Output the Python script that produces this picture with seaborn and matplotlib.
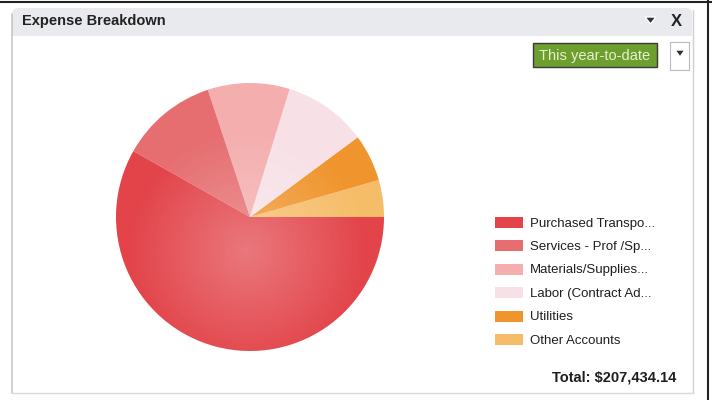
import numpy as np
import matplotlib
matplotlib.use("Agg")
import matplotlib.pyplot as plt
import seaborn as sns
from matplotlib.patches import Rectangle, FancyBboxPatch, Circle, Polygon

# ---- data ----
categories = ["Purchased Transpo...", "Services - Prof /Sp...", "Materials/Supplies...",
              "Labor (Contract Ad...", "Utilities", "Other Accounts"]
values = [120700, 24300, 20500, 20900, 11800, 9234.14]
colors = ["#E2444A", "#E66E70", "#F4AEAE", "#F7E1E7", "#F0952E", "#F6BD69"]
title = "Expense Breakdown"
period = "This year-to-date"
total_label = "Total: $207,434.14"

sns.set_theme(style="white")
plt.rcParams['font.family'] = ['Liberation Sans', 'DejaVu Sans']

W, H = 712, 400
fig = plt.figure(figsize=(W / 100, H / 100), dpi=100)
fig.patch.set_facecolor("white")

# background canvas in pixel coords
bg = fig.add_axes([0, 0, 1, 1])
bg.set_xlim(0, W)
bg.set_ylim(H, 0)
bg.axis("off")

# outer dark lines
bg.plot([0, W], [2, 2], color="#222222", lw=1.5)
bg.plot([708, 708], [0, H], color="#222222", lw=1.5)
# panel header
bg.add_patch(FancyBboxPatch((12, 8), 680, 28, boxstyle="round,pad=0,rounding_size=6",
                            facecolor="#E8EAEE", edgecolor="none"))
bg.add_patch(Rectangle((12, 30), 680, 6, facecolor="#E8EAEE", edgecolor="none"))
# panel borders
bg.plot([11.5, 11.5], [14, 393], color="#C8C8C8", lw=1.2)
bg.plot([692.5, 692.5], [10, 393], color="#D0D0D0", lw=1.0)
bg.plot([12, 692], [393, 393], color="#DADADA", lw=1.0)
bg.text(22, 21, title, fontsize=10.5, fontweight="bold", color="#222222", va="center", ha="left")
# header icons
bg.add_patch(Polygon([[645, 17], [656, 17], [650.5, 24]], closed=True, facecolor="#333333"))
bg.text(676, 21, "X", fontsize=12, fontweight="bold", color="#222222", va="center", ha="center")
# dropdown
bg.add_patch(Rectangle((533, 43), 124, 24, facecolor="#6E9E2E", edgecolor="#3A3A3A", lw=1))
bg.text(595, 56, period, fontsize=10.5, color="#E2F2CF", va="center", ha="center",
        fontstretch="condensed")
bg.add_patch(Rectangle((670, 42), 19, 28, facecolor="white", edgecolor="#BBBBBB", lw=0.8))
bg.add_patch(Polygon([[675, 50], [685, 50], [680, 57]], closed=True, facecolor="#333333"))

# ---- pie ----
cx, cy, r = 250, 217, 134
ax = fig.add_axes([(cx - r) / W, (H - cy - r) / H, 2 * r / W, 2 * r / H])
order = list(range(len(values)))[::-1]
wedges, _ = ax.pie([values[i] for i in order], colors=[colors[i] for i in order],
                   startangle=0, counterclock=True, radius=1,
                   wedgeprops=dict(linewidth=0, edgecolor="none"))
ax.set_aspect("equal")
ax.axis("off")

# soft radial highlight
yy, xx = np.mgrid[-1:1:300j, -1:1:300j]
rr = np.sqrt((xx + 0.02) ** 2 + (yy + 0.25) ** 2)
alpha = np.clip(0.28 * (1 - rr / 0.9), 0, 0.28)
img = np.zeros((300, 300, 4))
img[..., :3] = 1.0
img[..., 3] = alpha
im = ax.imshow(img, extent=(-1, 1, -1, 1), origin="lower", zorder=5, interpolation="bilinear")
clip = Circle((0, 0), 1, transform=ax.transData, facecolor="none", edgecolor="none")
ax.add_patch(clip)
im.set_clip_path(clip)
ax.set_xlim(-1, 1)
ax.set_ylim(-1, 1)

# ---- legend ----
y0, dy = 222, 23.4
for i, (lab, col) in enumerate(zip(categories, colors)):
    y = y0 + i * dy
    bg.add_patch(Rectangle((495, y - 5), 28, 11, facecolor=col, edgecolor="none"))
    bg.text(530, y + 1.5, lab, fontsize=9.5, color="#1E1E1E", va="center", ha="left")

bg.text(676, 377, total_label, fontsize=10.5, fontweight="bold", color="#1E1E1E",
        va="center", ha="right")

fig.savefig("out.png", dpi=100, facecolor="white")
